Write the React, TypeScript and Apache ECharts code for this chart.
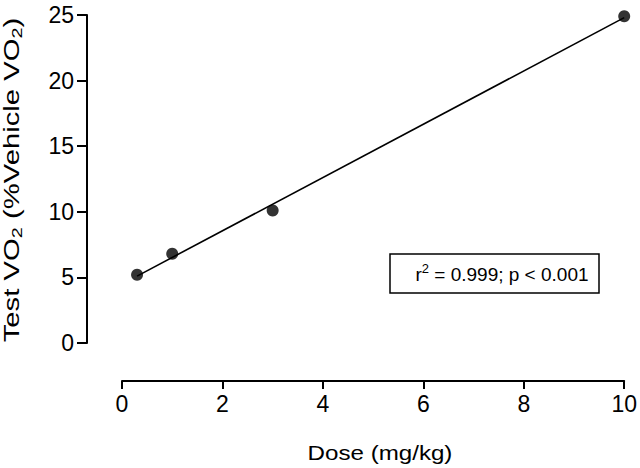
import React, { useEffect, useRef } from "react";
import * as echarts from "echarts";

const doseX = [0.3, 1, 3, 10];
const vo2Y = [5.2, 6.8, 10.1, 24.9];
const fitX = [0.3, 10];
const fitY = [5.1, 24.8];
const xTicks = { min: 0, max: 10, interval: 2 };
const yTicks = { min: 0, max: 25, interval: 5 };

const FONT = "'Liberation Sans', Arial, sans-serif";

export default function App() {
  const ref = useRef<HTMLDivElement>(null);
  useEffect(() => {
    if (!ref.current) return;
    const chart = echarts.init(ref.current, null, { renderer: "svg" });
    const axisLine = { show: true, onZero: false, lineStyle: { color: "#000", width: 2 } };
    chart.setOption({
      animation: false,
      backgroundColor: "#fff",
      grid: { left: 122, right: 13, top: 15, bottom: 125, containLabel: false },
      xAxis: {
        type: "value",
        min: xTicks.min,
        max: xTicks.max,
        interval: xTicks.interval,
        offset: 38,
        axisLine,
        axisTick: { show: true, length: 8, lineStyle: { color: "#000", width: 2 } },
        axisLabel: { color: "#000", fontSize: 23, fontFamily: FONT, margin: 11 },
        splitLine: { show: false },
      },
      yAxis: {
        type: "value",
        min: yTicks.min,
        max: yTicks.max,
        interval: yTicks.interval,
        offset: 35,
        axisLine,
        axisTick: { show: true, length: 10, lineStyle: { color: "#000", width: 2 } },
        axisLabel: { color: "#000", fontSize: 23, fontFamily: FONT, margin: 13 },
        splitLine: { show: false },
      },
      series: [
        {
          type: "line",
          data: fitX.map((x, i) => [x, fitY[i]]),
          showSymbol: false,
          symbol: "none",
          lineStyle: { color: "#000", width: 1.6 },
          z: 2,
        },
        {
          type: "scatter",
          data: doseX.map((x, i) => [x, vo2Y[i]]),
          symbol: "circle",
          symbolSize: 12,
          itemStyle: { color: "#000" },
          z: 3,
        },
      ],
      graphic: [
        {
          type: "text",
          x: 380,
          y: 453,
          scaleX: 1.15,
          style: {
            text: "Dose (mg/kg)",
            font: `21px ${FONT}`,
            fill: "#000",
            align: "center",
            verticalAlign: "middle",
          },
        },
        {
          type: "text",
          x: 11,
          y: 180,
          rotation: Math.PI / 2,
          scaleX: 1.33,
          style: {
            text: "Test VO{sub|2} (%Vehicle VO{sub|2})",
            fontSize: 22,
            fontFamily: FONT,
            fill: "#000",
            align: "center",
            verticalAlign: "middle",
            lineHeight: 26,
            rich: {
              sub: {
                fontSize: 15,
                fontFamily: FONT,
                fill: "#000",
                verticalAlign: "bottom",
                lineHeight: 26,
                padding: [10, 0, 0, 0],
              },
            },
          },
        },
        {
          type: "rect",
          shape: { x: 390, y: 254, width: 209, height: 39 },
          style: { fill: "#fff", stroke: "#000", lineWidth: 1.5 },
        },
        {
          type: "text",
          x: 502,
          y: 274,
          style: {
            text: "r{sup|2} = 0.999; p < 0.001",
            fontSize: 19,
            fontFamily: FONT,
            fill: "#000",
            align: "center",
            verticalAlign: "middle",
            lineHeight: 24,
            rich: {
              sup: {
                fontSize: 13,
                fontFamily: FONT,
                fill: "#000",
                verticalAlign: "top",
                lineHeight: 24,
                padding: [0, 0, 7, 0],
              },
            },
          },
        },
      ],
    });
    return () => chart.dispose();
  }, []);
  return (
    <div
      ref={ref}
      style={{ position: "absolute", left: 0, top: 0, width: 640, height: 468 }}
    />
  );
}
